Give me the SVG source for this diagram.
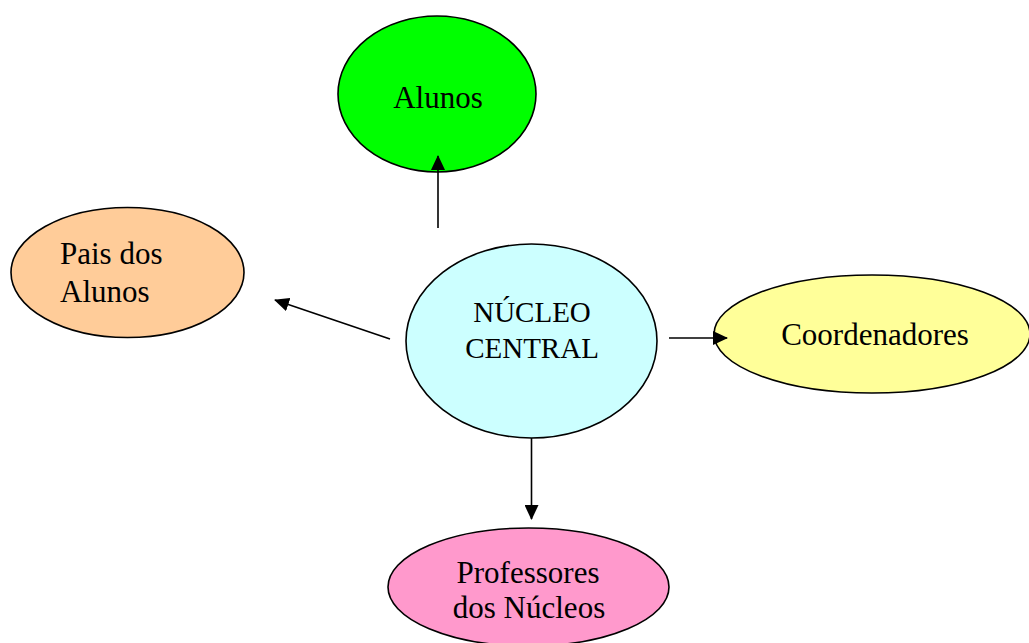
<svg xmlns="http://www.w3.org/2000/svg" width="1029" height="643" viewBox="0 0 1029 643">
<style>
.node{stroke:#000;stroke-width:1.6}
.lbl{font-family:"Liberation Serif","Times New Roman",serif;font-size:31px;fill:#000}
.sm{font-size:29px}
.c{text-anchor:middle}
.edge{stroke:#000;stroke-width:1.6;fill:none;marker-end:url(#ah)}
</style>
<defs>
<marker id="ah" markerUnits="userSpaceOnUse" markerWidth="16" markerHeight="14" refX="14" refY="7" orient="auto">
<path d="M0,0 L15,7 L0,14 Z" fill="#000"/>
</marker>
</defs>
<rect width="1029" height="643" fill="#fff"/>
<g id="alunos">
<ellipse class="node" cx="437" cy="94" rx="99" ry="78" fill="#00FF00"/>
<text class="lbl c" x="438" y="108">Alunos</text>
</g>
<g id="pais">
<ellipse class="node" cx="127.5" cy="272.5" rx="116.5" ry="65" fill="#FFCC99"/>
<text class="lbl" x="60" y="264">Pais dos</text>
<text class="lbl" x="60" y="302">Alunos</text>
</g>
<g id="nucleo">
<ellipse class="node" cx="531.5" cy="341" rx="125.5" ry="97" fill="#CCFFFF"/>
<text class="lbl sm c" x="532" y="322">NÚCLEO</text>
<text class="lbl sm c" x="532" y="358">CENTRAL</text>
</g>
<g id="coordenadores">
<ellipse class="node" cx="872" cy="334" rx="158" ry="59" fill="#FFFF99"/>
<text class="lbl c" x="875" y="345">Coordenadores</text>
</g>
<g id="professores">
<ellipse class="node" cx="528.5" cy="587" rx="140.5" ry="59" fill="#FF99CC"/>
<text class="lbl c" x="528" y="583">Professores</text>
<text class="lbl c" x="529" y="618">dos Núcleos</text>
</g>
<g id="connectors">
<line class="edge" x1="438" y1="228" x2="438" y2="156"/>
<line class="edge" x1="390" y1="339" x2="275" y2="300"/>
<line class="edge" x1="669" y1="338" x2="727" y2="338"/>
<line class="edge" x1="531.5" y1="438" x2="531.5" y2="519"/>
</g>
</svg>
